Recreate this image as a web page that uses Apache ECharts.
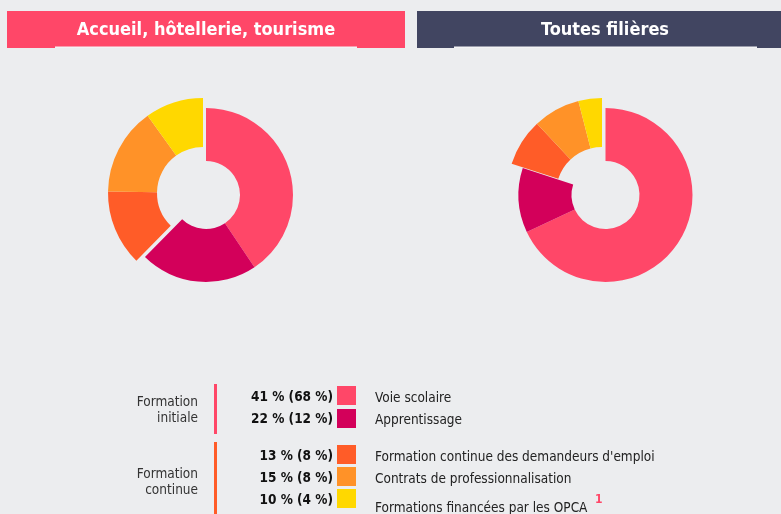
<!DOCTYPE html>
<html>
<head>
<meta charset="utf-8">
<script src="https://cdn.jsdelivr.net/npm/echarts@6/dist/echarts.min.js"></script>
<style>
  html, body { margin: 0; padding: 0; background: #ecedef; }
  #chart { width: 781px; height: 514px; }
</style>
</head>
<body>
<div id="chart"></div>
<script>
// Répartition des entrées en formation par voie (en %)
const panelTitles = ['Accueil, hôtellerie, tourisme', 'Toutes filières'];
const categories = [
  'Voie scolaire',
  'Apprentissage',
  'Formation continue des demandeurs d\'emploi',
  'Contrats de professionnalisation',
  'Formations financées par les OPCA'
];
const groupOf = ['initiale', 'initiale', 'continue', 'continue', 'continue'];
const groupLabels = { initiale: ['Formation', 'initiale'], continue: ['Formation', 'continue'] };
const valuesFiliere = [41, 22, 13, 15, 10];
const valuesToutes = [68, 12, 8, 8, 4];
const colors = ['#ff4768', '#d3005a', '#ff5c28', '#ff9228', '#ffd800'];
const footnote = '1';

const FONT = '"DejaVu Sans Condensed", "DejaVu Sans", sans-serif';
const BG = '#ecedef';
const TXT = 13.5;

// One ring for "formation initiale", a slightly larger, offset ring for "formation continue"
function rings(values, centerIn, centerOut) {
  const sumIn = values.filter((v, i) => groupOf[i] === 'initiale').reduce((a, b) => a + b, 0);
  const sumOut = values.filter((v, i) => groupOf[i] === 'continue').reduce((a, b) => a + b, 0);
  const hidden = { itemStyle: { color: 'transparent' }, emphasis: { disabled: true } };
  const common = {
    type: 'pie', startAngle: 90, clockwise: true, silent: true,
    avoidLabelOverlap: false, label: { show: false }, labelLine: { show: false },
    emphasis: { scale: false }, animation: false
  };
  const inner = [], outer = [];
  values.forEach((v, i) => {
    const item = { name: categories[i], value: v, itemStyle: { color: colors[i] } };
    if (groupOf[i] === 'initiale') inner.push(item); else outer.push(item);
  });
  inner.push(Object.assign({ name: '_', value: sumOut }, hidden));
  outer.unshift(Object.assign({ name: '_', value: sumIn }, hidden));
  return [
    Object.assign({}, common, { center: centerIn, radius: [34, 87], data: inner }),
    Object.assign({}, common, { center: centerOut, radius: [46, 95], data: outer })
  ];
}

const graphics = [];

// Banners
const banners = [
  { x: 7, w: 398, color: '#ff4768', cx: 206, line: [55, 357] },
  { x: 417, w: 370, color: '#414561', cx: 605, line: [454, 757] }
];
banners.forEach((b, i) => {
  graphics.push({ type: 'rect', shape: { x: b.x, y: 11, width: b.w, height: 37 }, style: { fill: b.color } });
  graphics.push({ type: 'rect', shape: { x: b.line[0], y: 46.5, width: b.line[1] - b.line[0], height: 1.5 }, style: { fill: '#f3f3f5' } });
  graphics.push({
    type: 'text', x: b.cx, y: 30,
    style: { text: panelTitles[i], fill: '#ffffff', fontFamily: FONT, fontWeight: 'bold', fontSize: 18, align: 'center', verticalAlign: 'middle' }
  });
});

// Legend table
const rowY = [397, 419, 456, 478, 500];
const labelY = [398, 420, 457, 479, 508];
const squareTop = [386, 409, 445, 467, 489];
const groupBars = {
  initiale: { y0: 384, y1: 434, color: '#ff4768', textY: [402, 418] },
  continue: { y0: 442, y1: 520, color: '#ff5c28', textY: [474, 490] }
};
Object.keys(groupBars).forEach(g => {
  const gb = groupBars[g];
  graphics.push({ type: 'rect', shape: { x: 214, y: gb.y0, width: 3, height: gb.y1 - gb.y0 }, style: { fill: gb.color } });
  groupLabels[g].forEach((t, k) => {
    graphics.push({
      type: 'text', x: 198, y: gb.textY[k],
      style: { text: t, fill: '#333333', fontFamily: FONT, fontSize: TXT, align: 'right', verticalAlign: 'middle' }
    });
  });
});
categories.forEach((c, i) => {
  graphics.push({
    type: 'text', x: 333, y: rowY[i],
    style: { text: valuesFiliere[i] + ' % (' + valuesToutes[i] + ' %)', fill: '#111111', fontFamily: FONT, fontWeight: 'bold', fontSize: TXT, align: 'right', verticalAlign: 'middle' }
  });
  graphics.push({ type: 'rect', shape: { x: 337, y: squareTop[i], width: 19, height: 19 }, style: { fill: colors[i] } });
  graphics.push({
    type: 'text', x: 375, y: labelY[i],
    style: { text: c, fill: '#222222', fontFamily: FONT, fontSize: TXT, align: 'left', verticalAlign: 'middle' }
  });
});
graphics.push({
  type: 'text', x: 595, y: 500,
  style: { text: footnote, fill: '#ff4768', fontFamily: FONT, fontWeight: 'bold', fontSize: 12, align: 'left', verticalAlign: 'middle' }
});

const chart = echarts.init(document.getElementById('chart'), null, { renderer: 'canvas' });
chart.setOption({
  backgroundColor: BG,
  animation: false,
  series: [].concat(
    rings(valuesFiliere, [206, 195], [203, 193]),
    rings(valuesToutes, [605.5, 195], [602, 193])
  ),
  graphic: { elements: graphics }
});
</script>
</body>
</html>
